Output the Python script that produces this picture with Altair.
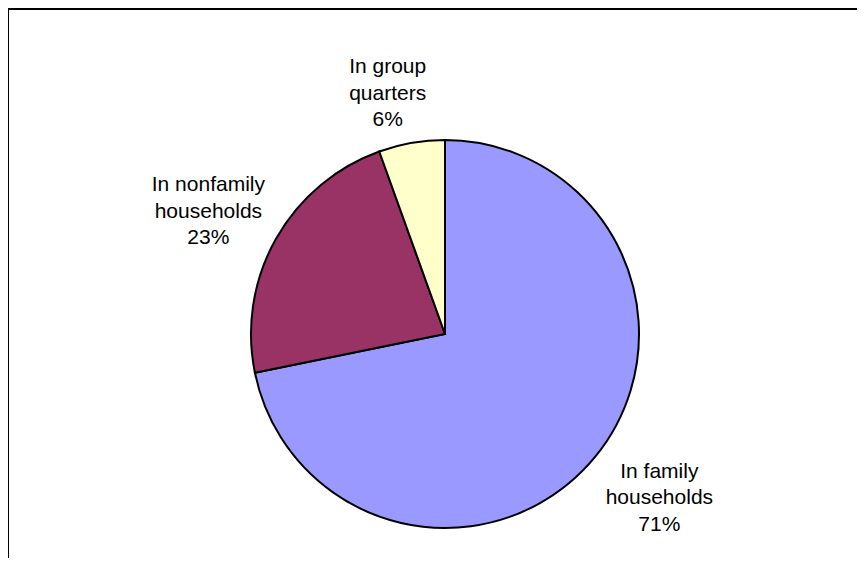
import altair as alt
import pandas as pd
import math

categories = ["In family households", "In nonfamily households", "In group quarters"]
label_text = ["In family\nhouseholds\n71%", "In nonfamily\nhouseholds\n23%", "In group\nquarters\n6%"]
shares = [71.8, 22.7, 5.5]
colors = ["#9999FF", "#993366", "#FFFFCC"]
slice_order = [0, 1, 2]
label_radius = [269, 268, 246]
label_nudge = [(6, -6), (-3, 9), (-15, 2)]

df = pd.DataFrame({
    "category": categories,
    "share": shares,
    "order": slice_order,
    "label": label_text,
    "lr": label_radius,
})
df["mid"] = df["share"].cumsum() - df["share"] / 2

W, H = 849, 550
CX, CY = 437, 326
R = 194
LINE_H = 26.5

theta_scale = alt.Scale(domain=[0, 100], range=[0, 2 * math.pi])

pie = alt.Chart(df).mark_arc(stroke="black", strokeWidth=2, radius=R).encode(
    theta=alt.Theta("share:Q", stack=True, scale=theta_scale),
    order=alt.Order("order:Q"),
    color=alt.Color("category:N", scale=alt.Scale(domain=categories, range=colors), legend=None),
    x=alt.value(CX),
    y=alt.value(CY),
)

label_layers = []
for cat, (ndx, ndy) in zip(categories, label_nudge):
    label_layers.append(
        alt.Chart(df).transform_filter(alt.datum.category == cat).mark_text(
            font="Liberation Sans", fontSize=21, lineHeight=LINE_H, lineBreak="\n",
            align="center", baseline="middle", color="black",
            dx=ndx, dy=-LINE_H + ndy,
        ).encode(
            theta=alt.Theta("mid:Q", stack=None, scale=theta_scale),
            text="label:N",
            radius=alt.Radius("lr:Q", scale=None),
            x=alt.value(CX),
            y=alt.value(CY),
        )
    )

frame_df = pd.DataFrame({"k": [1]})
top_line = alt.Chart(frame_df).mark_rule(color="black", strokeWidth=2).encode(
    x=alt.value(0), x2=alt.value(W), y=alt.value(1)
)
left_line = alt.Chart(frame_df).mark_rule(color="black", strokeWidth=2).encode(
    x=alt.value(0), y=alt.value(0), y2=alt.value(H)
)

chart = alt.layer(pie, *label_layers, top_line, left_line).properties(
    width=W, height=H,
    autosize=alt.AutoSizeParams(type="none"),
    padding=0,
).configure_view(stroke=None)

chart.save("out.html", embed_options={"renderer": "svg", "actions": False})
